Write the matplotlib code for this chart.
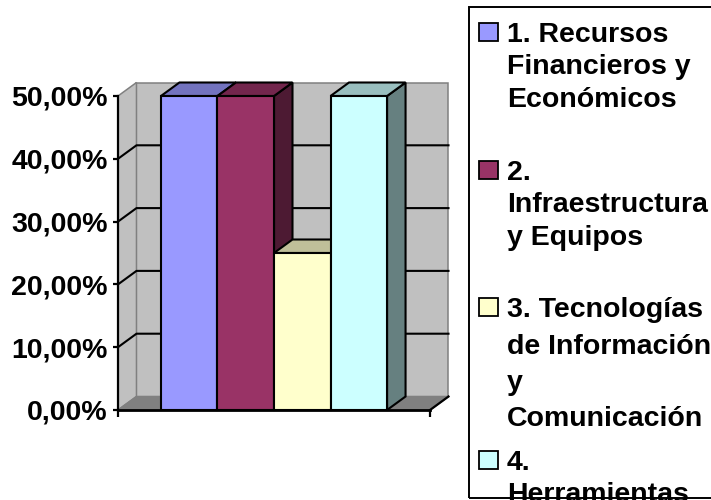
import matplotlib
matplotlib.use("Agg")
import matplotlib.pyplot as plt
from matplotlib.patches import Polygon, Rectangle
from matplotlib.ticker import FuncFormatter
from matplotlib.colors import to_rgb

# datos
categorias = ["1. Recursos\nFinancieros y\nEconómicos",
              "2.\nInfraestructura\ny Equipos",
              "3. Tecnologías\nde Información\ny\nComunicación",
              "4.\nHerramientas"]
valores = [0.50, 0.50, 0.25, 0.50]
colores = ["#9999FF", "#993366", "#FFFFCC", "#CCFFFF"]
ticks_y = [0.0, 0.1, 0.2, 0.3, 0.4, 0.5]

plt.rcParams['font.family'] = ['Liberation Sans', 'DejaVu Sans']
plt.rcParams['font.weight'] = 'bold'

W, H = 711, 500
fig = plt.figure(figsize=(W / 100, H / 100), dpi=100)

# layout of the plot area in pixels (front plane + 3d depth)
front_l, front_r = 118, 430
base, top50 = 410, 96
dpx, dpy = 18.5, 13.5
ancho_px = 56.6
hueco = 43 / ancho_px

ymax = max(ticks_y)
prof_x = dpx / ancho_px
prof_y = dpy / ((base - top50) / ymax)
x0 = -0.5 - hueco
x1 = len(valores) - 0.5 + hueco

ax = fig.add_axes([front_l / W, 1 - base / H,
                   (front_r + dpx - front_l) / W, (base - top50 + dpy) / H])
ax.set_xlim(x0, x1 + prof_x)
ax.set_ylim(0, ymax + prof_y)
ax.set_facecolor("none")

gris = "#C0C0C0"
gris_osc = "#808080"

# walls and floor
ax.add_patch(Rectangle((x0 + prof_x, prof_y), x1 - x0, ymax, fc=gris, ec=gris_osc,
                       lw=1.1, zorder=0.5, clip_on=False))
ax.add_patch(Polygon([(x0, 0), (x0, ymax), (x0 + prof_x, ymax + prof_y), (x0 + prof_x, prof_y)],
                     fc=gris, ec=gris_osc, lw=1.1, zorder=0.5, clip_on=False))
ax.add_patch(Polygon([(x0, 0), (x1, 0), (x1 + prof_x, prof_y), (x0 + prof_x, prof_y)],
                     fc=gris_osc, ec=gris_osc, lw=1.1, zorder=0.6, clip_on=False))
ax.plot([x1, x1 + prof_x], [0, prof_y], color="black", lw=1.6, zorder=0.7, clip_on=False)

# gridlines
for v in ticks_y[1:-1]:
    ax.plot([x0, x0 + prof_x, x1 + prof_x], [v, v + prof_y, v + prof_y],
            color="black", lw=1.5, zorder=0.7, clip_on=False)

# bars
for i, (v, c) in enumerate(zip(valores, colores)):
    r, g, b = to_rgb(c)
    lado = (r * 0.5, g * 0.5, b * 0.5)
    tapa = (r * 0.75, g * 0.75, b * 0.75)
    izq, der = i - 0.5, i + 0.5
    z = 1 + i
    ax.add_patch(Polygon([(der, 0), (der + prof_x, prof_y), (der + prof_x, v + prof_y), (der, v)],
                         fc=lado, ec="black", lw=1.5, zorder=z, clip_on=False))
    ax.add_patch(Polygon([(izq, v), (der, v), (der + prof_x, v + prof_y), (izq + prof_x, v + prof_y)],
                         fc=tapa, ec="black", lw=1.5, zorder=z, clip_on=False))
    ax.add_patch(Rectangle((izq, 0), 1, v, fc=c, ec="black", lw=1.5, zorder=z, clip_on=False))

# axes
ax.spines["top"].set_visible(False)
ax.spines["right"].set_visible(False)
ax.spines["left"].set_bounds(0, ymax)
ax.spines["left"].set_linewidth(1.6)
ax.spines["bottom"].set_bounds(x0, x1)
ax.spines["bottom"].set_linewidth(2)
for s in ax.spines.values():
    s.set_zorder(10)
ax.set_yticks(ticks_y)
ax.yaxis.set_major_formatter(FuncFormatter(lambda v, p: f"{v * 100:.2f}%".replace(".", ",")))
ax.set_xticks([x0, x1])
ax.set_xticklabels([])
ax.tick_params(axis="y", length=3.6, width=1.6, pad=3.6, labelsize=20.5)
ax.tick_params(axis="x", length=5, width=1.6)

# legend, drawn by hand (cut at the bottom as in the original)
leg_l, leg_t, leg_b = 469, 7, 498
fig.add_artist(Rectangle((leg_l / W, 1 - leg_b / H), 0.5, (leg_b - leg_t) / H,
                         transform=fig.transFigure, fill=False, ec="black", lw=1.4, zorder=5))
bases = [42, 180, 317, 470]
pasos = [32.5, 32.5, 36.5, 32]
for nombre, c, b0, paso in zip(categorias, colores, bases, pasos):
    fig.add_artist(Rectangle((479 / W, 1 - (b0 - 1) / H), 19 / W, 18 / H,
                             transform=fig.transFigure, fc=c, ec="black", lw=1.3))
    for k, linea in enumerate(nombre.split("\n")):
        fig.text(507 / W, 1 - (b0 + k * paso) / H, linea, fontsize=20.5,
                 fontweight="bold", va="baseline", ha="left")

fig.savefig("out.png", dpi=100)
